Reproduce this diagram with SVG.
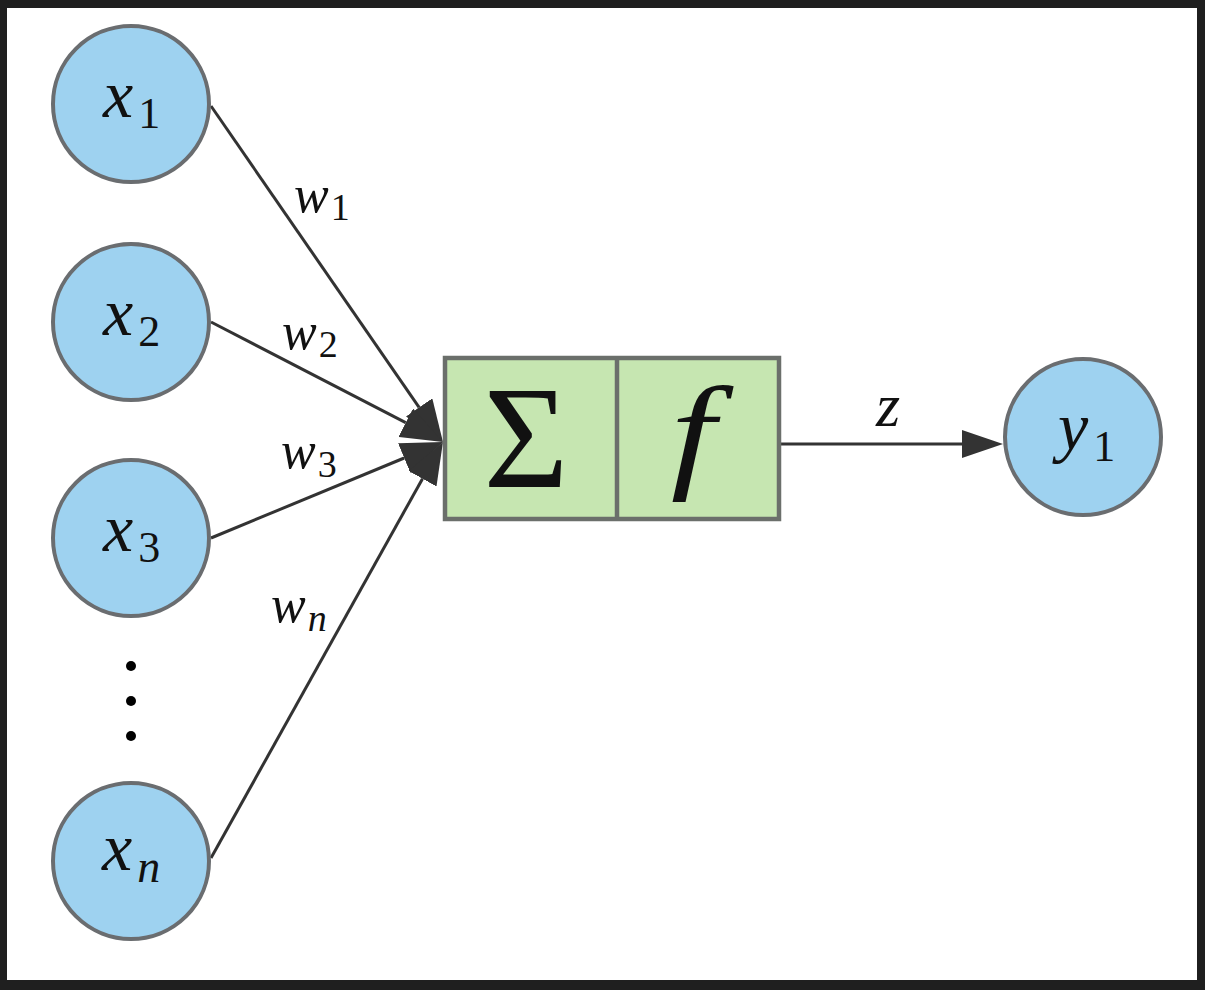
<svg xmlns="http://www.w3.org/2000/svg" width="1205" height="990" viewBox="0 0 1205 990">
<style>
.node circle{fill:#9ed2f0;stroke:#6a6d70;stroke-width:4}
.edge{stroke:#333;stroke-width:3;fill:none}
.box{fill:#c6e6b1;stroke:#6b6f6b;stroke-width:4.5}
.math{font-family:"Liberation Serif","Times New Roman",serif;fill:#111}
</style>
<defs>
<marker id="ah" viewBox="0 0 42 32" refX="0" refY="16" markerWidth="42" markerHeight="32" markerUnits="userSpaceOnUse" orient="auto">
<path d="M0,0 L42,16 L0,32 z" fill="#333"/>
</marker>
<marker id="ah2" viewBox="0 0 41 28" refX="0" refY="14" markerWidth="41" markerHeight="28" markerUnits="userSpaceOnUse" orient="auto">
<path d="M0,0 L41,14 L0,28 z" fill="#333"/>
</marker>
</defs>
<rect x="0" y="0" width="1205" height="990" fill="#1f1f1f"/>
<rect x="7" y="8" width="1190" height="972" fill="#ffffff"/>
<g id="connectors">
<line class="edge" x1="211" y1="106" x2="419.1" y2="407.4" marker-end="url(#ah)"/>
<line class="edge" x1="211" y1="322" x2="405.7" y2="422.7" marker-end="url(#ah)"/>
<line class="edge" x1="211" y1="538" x2="404.2" y2="458.0" marker-end="url(#ah)"/>
<line class="edge" x1="211" y1="858" x2="422.5" y2="478.7" marker-end="url(#ah)"/>
<line class="edge" x1="781" y1="444" x2="962" y2="444" marker-end="url(#ah2)"/>
<g class="math" font-style="italic">
<text x="294" y="212" font-size="52">w<tspan font-style="normal" font-size="38" dx="2" dy="8">1</tspan></text>
<text x="282" y="349" font-size="52">w<tspan font-style="normal" font-size="38" dx="2" dy="8">2</tspan></text>
<text x="281" y="468" font-size="52">w<tspan font-style="normal" font-size="38" dx="2" dy="9">3</tspan></text>
<text x="271" y="622" font-size="52">w<tspan font-size="38" dx="2" dy="9">n</tspan></text>
<text x="876" y="426" font-size="62">z</text>
</g>
</g>
<g id="node-x1" class="node">
<circle cx="131" cy="104" r="78"/>
<text class="math" font-style="italic" x="103" y="117" font-size="68">x<tspan font-style="normal" font-size="44" dx="5" dy="11">1</tspan></text>
</g>
<g id="node-x2" class="node">
<circle cx="131" cy="322" r="78"/>
<text class="math" font-style="italic" x="103" y="335" font-size="68">x<tspan font-style="normal" font-size="44" dx="5" dy="11">2</tspan></text>
</g>
<g id="node-x3" class="node">
<circle cx="131" cy="538" r="78"/>
<text class="math" font-style="italic" x="103" y="551" font-size="68">x<tspan font-style="normal" font-size="44" dx="5" dy="11">3</tspan></text>
</g>
<g id="dots" fill="#000">
<circle cx="131" cy="666" r="5"/>
<circle cx="131" cy="701" r="5"/>
<circle cx="131" cy="736" r="5"/>
</g>
<g id="node-xn" class="node">
<circle cx="131" cy="861" r="78"/>
<text class="math" font-style="italic" x="102" y="870" font-size="68">x<tspan font-size="46" dx="5" dy="12">n</tspan></text>
</g>
<g id="node-sum-f">
<rect class="box" x="445" y="358" width="334" height="161"/>
<line x1="617" y1="358" x2="617" y2="519" stroke="#6b6f6b" stroke-width="4.5"/>
<text class="math" x="526" y="487" font-size="146" text-anchor="middle">Σ</text>
<text class="math" font-style="italic" x="0" y="0" font-size="128" text-anchor="middle" transform="translate(693,475) scale(1.25,1)">f</text>
</g>
<g id="node-y1" class="node">
<circle cx="1083" cy="437" r="78"/>
<text class="math" font-style="italic" x="1058" y="450" font-size="68">y<tspan font-style="normal" font-size="44" dx="5" dy="11">1</tspan></text>
</g>
</svg>
